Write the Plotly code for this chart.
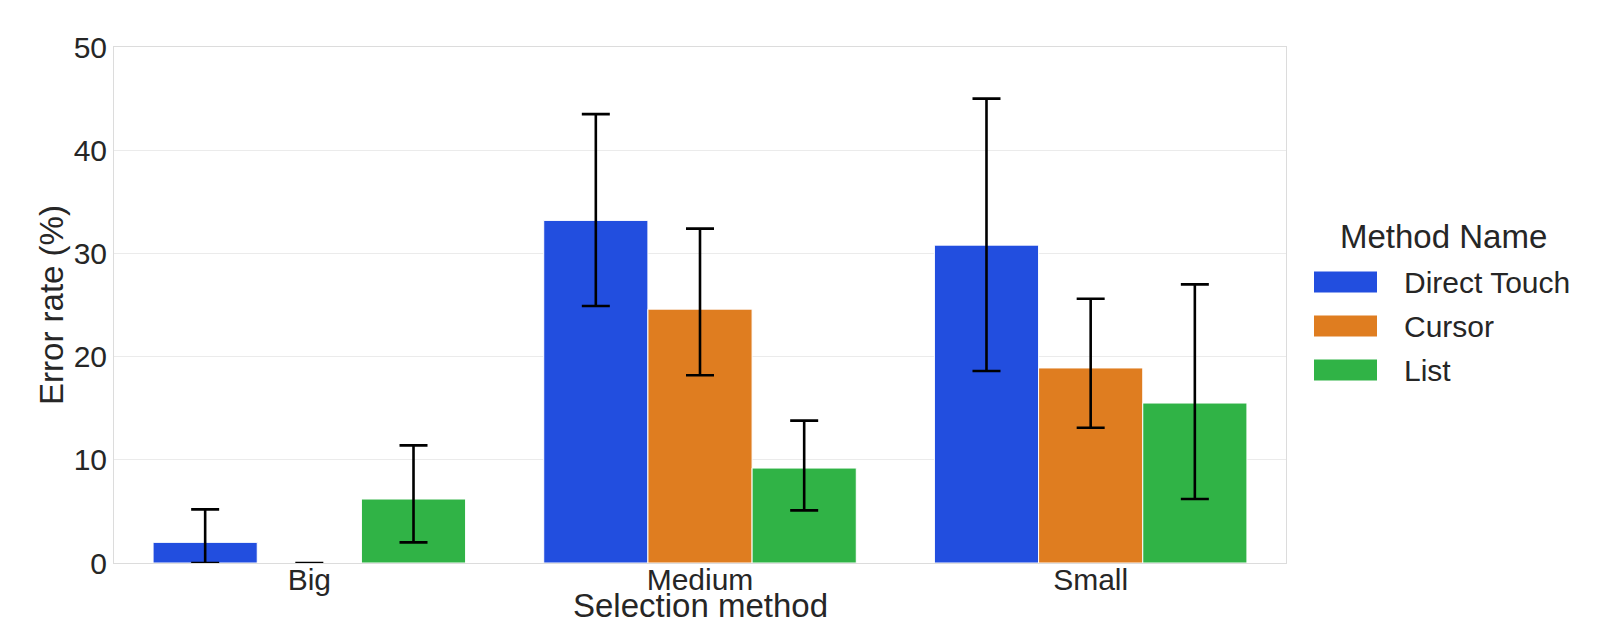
import plotly.graph_objects as go

categories = ["Big", "Medium", "Small"]
methods = ["Direct Touch", "Cursor", "List"]
colors = ["#224EDF", "#DF7D20", "#30B346"]

# mean error rate (%) per method, per category
direct_touch = [2.0, 33.2, 30.8]
cursor = [0.0, 24.6, 18.9]
list_vals = [6.2, 9.2, 15.5]

# confidence interval bounds
direct_touch_lo = [0.0, 24.9, 18.6]
direct_touch_hi = [5.2, 43.5, 45.0]
cursor_lo = [0.0, 18.2, 13.1]
cursor_hi = [0.0, 32.4, 25.6]
list_lo = [2.0, 5.1, 6.2]
list_hi = [11.4, 13.8, 27.0]

yticks = [0, 10, 20, 30, 40, 50]

values = [direct_touch, cursor, list_vals]
lows = [direct_touch_lo, cursor_lo, list_lo]
highs = [direct_touch_hi, cursor_hi, list_hi]

FONT = "Liberation Sans, Arial, sans-serif"
TXT = "#262626"

fig = go.Figure()
for name, col, v, lo, hi in zip(methods, colors, values, lows, highs):
    fig.add_trace(go.Bar(
        name=name, x=categories, y=v,
        marker=dict(color=col, line=dict(color="white", width=1)),
        error_y=dict(type="data", symmetric=False,
                     array=[h - m for h, m in zip(hi, v)],
                     arrayminus=[m - l for m, l in zip(v, lo)],
                     color="black", thickness=2.6, width=14),
        showlegend=False,
    ))

W, H = 1618, 625
L, R, T, B = 114, 332, 47, 62
pw = W - L - R
ph = H - T - B


def px_x(x):
    return (x - L) / pw


def px_y(y):
    return 1 - (y - T) / ph


# custom legend (wide swatches like the reference)
shapes = []
annotations = [dict(text="Method Name", x=px_x(1444), y=px_y(236), xref="paper", yref="paper",
                    xanchor="center", yanchor="middle", showarrow=False,
                    font=dict(family=FONT, size=33, color=TXT))]
for i, (name, col) in enumerate(zip(methods, colors)):
    yc = 282 + 44 * i
    shapes.append(dict(type="rect", xref="paper", yref="paper",
                       x0=px_x(1314), x1=px_x(1377), y0=px_y(yc - 10.5), y1=px_y(yc + 10.5),
                       fillcolor=col, line=dict(width=0)))
    annotations.append(dict(text=name, x=px_x(1402), y=px_y(yc), xref="paper", yref="paper",
                            xanchor="left", yanchor="middle", showarrow=False,
                            font=dict(family=FONT, size=30, color=TXT)))

# x axis title placed tight under the tick labels, as in the reference
annotations.append(dict(text="Selection method", x=0.5, y=px_y(605), xref="paper", yref="paper",
                        xanchor="center", yanchor="middle", showarrow=False,
                        font=dict(family=FONT, size=33, color=TXT)))

fig.update_layout(
    width=W, height=H,
    margin=dict(l=L, r=R, t=T, b=B, autoexpand=False),
    barmode="group", bargap=0.2, bargroupgap=0,
    plot_bgcolor="white", paper_bgcolor="white",
    font=dict(family=FONT, color=TXT),
    shapes=shapes, annotations=annotations,
    xaxis=dict(range=[-0.5, 2.5], showgrid=False, showline=True, linecolor="#dcdcdc",
               linewidth=1, mirror=True, ticks="", tickfont=dict(size=30, color=TXT),
               ticklabelstandoff=-10),
    yaxis=dict(range=[0, 50], tickvals=yticks, showgrid=True, gridcolor="#ebebeb", gridwidth=1,
               showline=True, linecolor="#dcdcdc", linewidth=1, mirror=True, zeroline=False,
               ticks="", tickfont=dict(size=30, color=TXT),
               title=dict(text="Error rate (%)", font=dict(size=33, color=TXT), standoff=0)),
)

fig.write_html("out.html", config={"displayModeBar": False},
               post_script="document.body.style.margin='0';document.body.style.padding='0';")
